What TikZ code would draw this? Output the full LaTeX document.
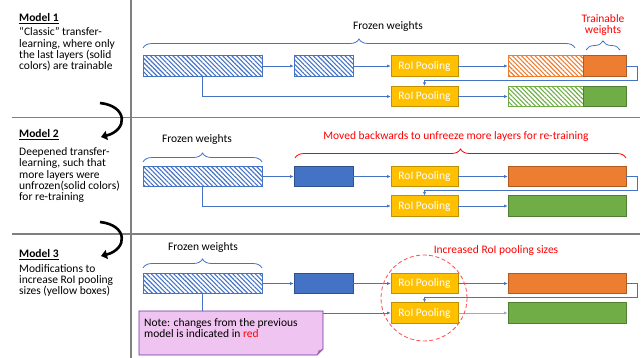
\documentclass[tikz,border=0pt]{standalone}
\usepackage{fontspec}
\setmainfont{Carlito}
\usetikzlibrary{arrows.meta,patterns.meta,decorations.pathreplacing,calc}
\definecolor{mblue}{HTML}{4472C4}
\definecolor{mblued}{HTML}{2F528F}
\definecolor{morange}{HTML}{ED7D31}
\definecolor{moranged}{HTML}{AE5A21}
\definecolor{mgreen}{HTML}{70AD47}
\definecolor{mgreend}{HTML}{507E32}
\definecolor{myellow}{HTML}{FFC000}
\definecolor{myellowd}{HTML}{BF9000}
\definecolor{mred}{HTML}{FF0000}
\definecolor{mgray}{HTML}{7F7F7F}
\definecolor{notefill}{HTML}{F0C4F0}
\definecolor{notedraw}{HTML}{7030A0}
\begin{document}
\begin{tikzpicture}[x=1pt,y=-1pt,
  txt/.style={font=\fontsize{11.5}{11.3}\selectfont, inner sep=0pt},
  box/.style={draw, inner sep=0pt, line width=0.6pt, minimum height=20.5pt},
  hatchbox/.style={box, draw=#1, pattern={Lines[angle=-45,distance=3.2pt,line width=1.1pt]}, pattern color=#1},
  solidbox/.style={box, fill=#1},
  roi/.style={box, fill=myellow, draw=myellowd, text=white, font=\fontsize{11.5}{12}\selectfont, minimum width=67pt},
  conn/.style={draw=mblue, line width=0.6pt, -{Latex[length=3.5pt,width=3pt]}},
  fbrace/.style={decorate, decoration={brace, amplitude=9pt}, line width=0.8pt},
  bigarrow/.style={line width=2.6pt, -{Triangle[length=6pt,width=9pt]}},
  divider/.style={draw=mgray, line width=1.2pt}
]
\useasboundingbox (0,0) rectangle (644,358);
% dividers
\draw[divider] (131,0) -- (131,358);
\draw[divider] (12,117.5) -- (640,117.5);
\draw[divider] (12,234) -- (640,234);

% left texts
\node[txt, anchor=base west] (h1) at (19,21.5) {\underline{\textbf{Model 1}}};
\node[txt, anchor=north west, align=left] (t1) at (19,27.5) {“Classic” transfer-\\learning, where only\\the last layers (solid\\colors) are trainable};
\node[txt, anchor=base west] (h2) at (19,137.5) {\underline{\textbf{Model 2}}};
\node[txt, anchor=north west, align=left] (t2) at (19,147.5) {Deepened transfer-\\learning, such that\\more layers were\\unfrozen(solid colors)\\for re-training};
\node[txt, anchor=base west] (h3) at (19,257.5) {\underline{\textbf{Model 3}}};
\node[txt, anchor=north west, align=left] (t3) at (19,264) {Modifications to\\increase RoI pooling\\sizes (yellow boxes)};

% curved arrows
\coordinate (c1s) at (100,103);
\coordinate (c1e) at (101,137);
\draw[bigarrow] (c1s) .. controls (128,106) and (128,130) .. (c1e);
\coordinate (c2s) at (100,222);
\coordinate (c2e) at (101,256);
\draw[bigarrow] (c2s) .. controls (128,225) and (128,249) .. (c2e);

% ===== Model 1 =====
\node[hatchbox=mblue, minimum width=119pt] (a1) at (202.5,66) {};
\node[hatchbox=mblue, minimum width=59pt] (b1) at (323.5,66) {};
\node[roi] (r11) at (424.5,66) {RoI Pooling};
\node[hatchbox=morange, minimum width=75pt] (o1h) at (545.5,66) {};
\node[solidbox=morange, draw=moranged, minimum width=43pt] (o1s) at (604.5,66) {};
\node[roi] (r12) at (424.5,96.5) {RoI Pooling};
\node[hatchbox=mgreen, minimum width=75pt] (g1h) at (545.5,96.5) {};
\node[solidbox=mgreen, draw=mgreend, minimum width=43pt] (g1s) at (604.5,96.5) {};
\draw[conn] (a1) -- (b1);
\draw[conn] (b1) -- (r11);
\draw[conn] (r11) -- (o1h);
\draw[conn] (o1s.east) -- ++(11,0) |- ($(r12.north)+(0,-6)$) -- (r12.north);
\draw[conn] (a1.south) |- (r12.west);
\draw[conn] (r12) -- (g1h);
\draw[fbrace, draw=mblue] (143,48) -- (575,48);
\node[txt] (fw1) at (388,26) {Frozen weights};
\draw[fbrace, draw=mblue] (586,50) -- (620,50);
\node[txt, text=mred, align=center] (tw1) at (603,25) {Trainable\\weights};

% ===== Model 2 =====
\node[hatchbox=mblue, minimum width=119pt] (a2) at (202.5,176.5) {};
\node[solidbox=mblue, draw=mblued, minimum width=59pt] (b2) at (323.5,176.5) {};
\node[roi] (r21) at (424.5,176.5) {RoI Pooling};
\node[solidbox=morange, draw=moranged, minimum width=118pt] (o2) at (567,176.5) {};
\node[roi] (r22) at (424.5,206) {RoI Pooling};
\node[solidbox=mgreen, draw=mgreend, minimum width=118pt] (g2) at (567,206) {};
\draw[conn] (a2) -- (b2);
\draw[conn] (b2) -- (r21);
\draw[conn] (r21) -- (o2);
\draw[conn] (o2.east) -- ++(11,0) |- ($(r22.north)+(0,-5)$) -- (r22.north);
\draw[conn] (a2.south) |- (r22.west);
\draw[conn] (r22) -- (g2);
\draw[fbrace, draw=mblue] (143,162) -- (262,162);
\node[txt] (fw2) at (197,139) {Frozen weights};
\draw[fbrace, draw=mred] (295,158) -- (626,158);
\node[txt, text=mred] (mv2) at (456,136) {Moved backwards to unfreeze more layers for re-training};

% ===== Model 3 =====
\node[hatchbox=mblue, minimum width=119pt] (a3) at (202.5,283.5) {};
\node[solidbox=mblue, draw=mblued, minimum width=59pt] (b3) at (323.5,283.5) {};
\node[roi] (r31) at (424.5,283.5) {RoI Pooling};
\node[solidbox=morange, draw=moranged, minimum width=118pt] (o3) at (567,283.5) {};
\node[roi] (r32) at (424.5,313) {RoI Pooling};
\node[solidbox=mgreen, draw=mgreend, minimum width=118pt] (g3) at (567,313) {};
\draw[conn] (a3) -- (b3);
\draw[conn] (b3) -- (r31);
\draw[conn] (r31) -- (o3);
\draw[conn] (o3.east) -- ++(11,0) |- ($(r32.north)+(0,-5)$) -- (r32.north);
\draw[conn] (a3.south) |- (r32.west);
\draw[conn, draw=mblue!60, line width=1pt] (r32) -- (g3);
\draw[fbrace, draw=mblue] (143,268) -- (262,268);
\node[txt] (fw3) at (203,247) {Frozen weights};
\node[draw=mred!70, dashed, dash pattern=on 4pt off 2.5pt, line width=0.8pt, circle, minimum size=86pt, inner sep=0pt] (circ) at (424,298) {};
\node[txt, text=mred] (inc) at (496,250) {Increased RoI pooling sizes};

% note
\draw[draw=notedraw, fill=notefill, line width=0.8pt] (139,311) -- (323,311) -- (323,349) -- (317,355) -- (139,355) -- cycle;
\fill[notedraw!70] (317,355) -- (318.5,350.5) -- (323,349) -- cycle;
\node[txt, anchor=north west, align=left] (note) at (144,318) {Note: changes from the previous\\model is indicated in \textcolor{mred}{red}};
\end{tikzpicture}
\end{document}
